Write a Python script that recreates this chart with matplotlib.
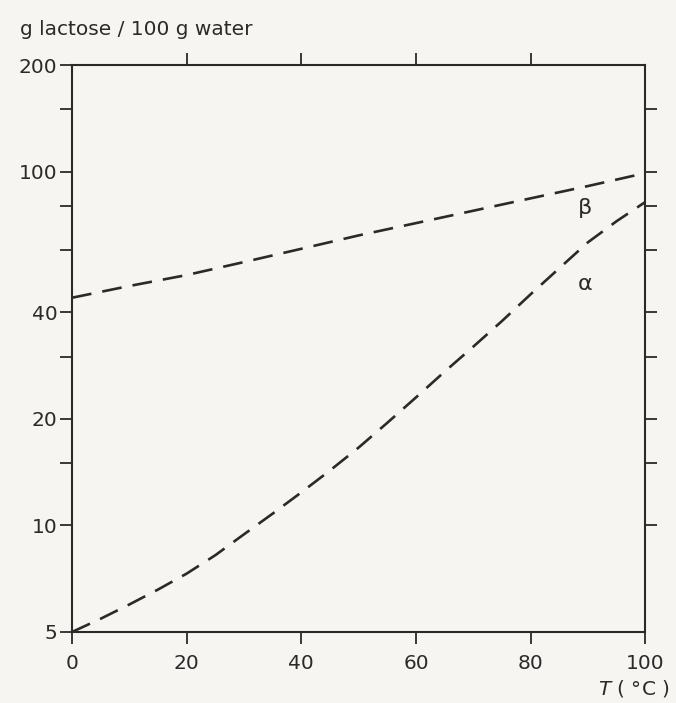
import numpy as np
import matplotlib.pyplot as plt
from matplotlib.ticker import FixedLocator, NullFormatter, FixedFormatter

# solubility (g lactose / 100 g water)
temp_a = [0, 5, 10, 15, 20, 25, 30, 35, 40, 45, 50,
          55, 60, 65, 70, 75, 80, 85, 90, 95, 100]
alpha_sol = [5.0, 5.45, 5.98, 6.59, 7.31, 8.24, 9.44, 10.8, 12.4, 14.3, 16.6,
             19.5, 23.0, 27.2, 32.0, 37.8, 45.0, 53.3, 63.1, 72.4, 82.0]
temp_b = [0, 10, 20, 30, 40, 50, 60, 70, 80, 90, 100]
beta_sol = [44.0, 47.5, 51.0, 55.5, 60.5, 66.0, 71.5, 77.5, 84.0, 91.0, 99.0]

x_ticks = [0, 20, 40, 60, 80, 100]
y_ticks = [5, 10, 20, 40, 100, 200]
y_minor = [15, 30, 60, 80, 150]
top_ticks = [20, 40, 60, 80]
right_ticks = [10, 15, 20, 30, 40, 60, 80, 100, 150]

ink = '#2a2a2a'
paper = '#f6f5f1'

fig = plt.figure(figsize=(6.76, 7.03), dpi=100, facecolor=paper)
ax = fig.add_axes([0.1065, 0.101, 0.848, 0.8065], facecolor=paper)

ax.set_yscale('log')
ax.set_xlim(0, 100)
ax.set_ylim(5, 200)

for t, vals in ((temp_b, beta_sol), (temp_a, alpha_sol)):
    ln, = ax.plot(t, vals, color=ink, lw=1.9)
    ln.set_dashes((7.5, 4.2))
    ln.set_dash_capstyle('butt')

ax.text(89.5, 79, 'β', fontsize=16, color=ink, ha='center', va='center')
ax.text(89.5, 48, 'α', fontsize=16, color=ink, ha='center', va='center')

ax.xaxis.set_major_locator(FixedLocator(x_ticks))
ax.yaxis.set_major_locator(FixedLocator(y_ticks))
ax.yaxis.set_major_formatter(FixedFormatter([str(v) for v in y_ticks]))
ax.yaxis.set_minor_locator(FixedLocator(y_minor))
ax.yaxis.set_minor_formatter(NullFormatter())

ax.tick_params(which='both', direction='out', length=8.5, width=1.3,
               color=ink, labelcolor=ink, labelsize=14.5)
ax.tick_params(axis='y', which='both', pad=2)
ax.tick_params(axis='x', pad=7)

for s in ax.spines.values():
    s.set_linewidth(1.5)
    s.set_color(ink)

top = ax.secondary_xaxis('top')
top.set_xticks(top_ticks)
top.set_xticklabels([])
top.tick_params(direction='out', length=8.5, width=1.3, color=ink)
top.spines['top'].set_visible(False)

right = ax.secondary_yaxis('right')
right.set_yscale('log')
right.yaxis.set_major_locator(FixedLocator(right_ticks))
right.yaxis.set_major_formatter(NullFormatter())
right.yaxis.set_minor_locator(FixedLocator([]))
right.tick_params(which='both', direction='out', length=8.5, width=1.3, color=ink)
right.spines['right'].set_visible(False)

fig.text(0.03, 0.95, 'g lactose / 100 g water', fontsize=14.5, color=ink,
         ha='left', va='baseline')
fig.text(0.884, 0.012, '$T$ ( °C )', fontsize=14.5, color=ink,
         ha='left', va='baseline')

fig.savefig('out.png', dpi=100, facecolor=paper)
